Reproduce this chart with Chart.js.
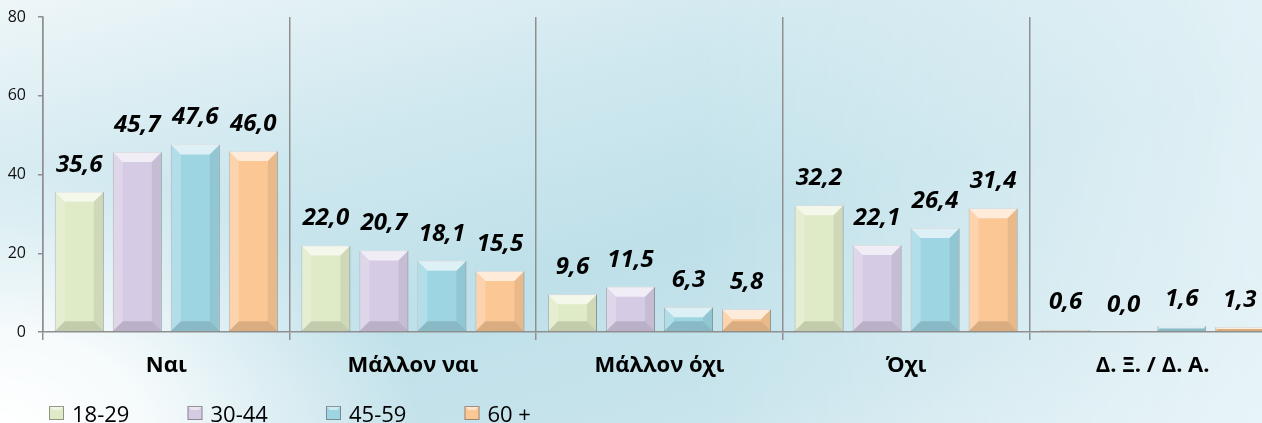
<!DOCTYPE html>
<html>
<head>
<meta charset="utf-8">
<script src="https://cdn.jsdelivr.net/npm/chart.js@4/dist/chart.umd.min.js"></script>
<style>
  html, body { margin: 0; padding: 0; overflow: hidden; }
  body {
    width: 1262px; height: 423px;
    background:
      radial-gradient(ellipse 420px 260px at 0% 100%, #ffffff 0%, rgba(255,255,255,0.85) 35%, rgba(255,255,255,0) 100%),
      linear-gradient(90deg, rgba(255,255,255,0) 55%, rgba(236,246,249,0.75) 100%),
      linear-gradient(165deg, #eef6f8 0%, #cfe8ef 30%, #bfe0e9 55%, #c8e4ec 80%, #dceef3 100%);
  }
  #wrap { position: absolute; left: 0; top: 0; width: 1276px; height: 423px; }
</style>
</head>
<body>
<div id="wrap"><canvas id="chart" width="1276" height="423"></canvas></div>
<script>
  // categories and age groups
  var categories = ['Ναι', 'Μάλλον ναι', 'Μάλλον όχι', 'Όχι', 'Δ. Ξ. / Δ. Α.'];
  var ageGroups = ['18-29', '30-44', '45-59', '60 +'];

  // percentages per age group
  var age1829 = [35.6, 22.0, 9.6, 32.2, 0.6];
  var age3044 = [45.7, 20.7, 11.5, 22.1, 0.0];
  var age4559 = [47.6, 18.1, 6.3, 26.4, 1.6];
  var age60 = [46.0, 15.5, 5.8, 31.4, 1.3];

  var yTicks = [0, 20, 40, 60, 80];

  var barColors = ['#dfeac6', '#d6cbe5', '#9dd5e3', '#fbc795'];
  var gridColor = '#8f8f8f';

  var seriesValues = [age1829, age3044, age4559, age60];

  // bevel look like the office charts
  var bevelPlugin = {
    id: 'bevel',
    afterDatasetDraw: function (chart, args) {
      var ctx = chart.ctx;
      args.meta.data.forEach(function (bar) {
        var w = bar.width, l = bar.x - w / 2, r = bar.x + w / 2;
        var t = Math.min(bar.y, bar.base), btm = Math.max(bar.y, bar.base);
        var b = Math.min(10, (btm - t) / 2, w / 2);
        if (b <= 0) return;
        ctx.save();
        function quad(pts, fill) {
          ctx.beginPath();
          ctx.moveTo(pts[0], pts[1]);
          for (var i = 2; i < pts.length; i += 2) ctx.lineTo(pts[i], pts[i + 1]);
          ctx.closePath();
          ctx.fillStyle = fill;
          ctx.fill();
        }
        quad([l, t, r, t, r - b, t + b, l + b, t + b], 'rgba(255,255,255,0.65)');
        quad([l, t, l + b, t + b, l + b, btm - b, l, btm], 'rgba(255,255,255,0.22)');
        quad([r, t, r - b, t + b, r - b, btm - b, r, btm], 'rgba(0,0,0,0.07)');
        quad([l, btm, l + b, btm - b, r - b, btm - b, r, btm], 'rgba(0,0,0,0.13)');
        ctx.restore();
      });
    }
  };

  var valueLabels = {
    id: 'valueLabels',
    afterDatasetsDraw: function (chart) {
      var ctx = chart.ctx;
      ctx.save();
      ctx.font = 'italic bold 24px "Open Sans"';
      ctx.fillStyle = '#000';
      ctx.textAlign = 'center';
      ctx.textBaseline = 'middle';
      chart.data.datasets.forEach(function (ds, i) {
        chart.getDatasetMeta(i).data.forEach(function (bar, j) {
          ctx.fillText(ds.data[j].toFixed(1).replace('.', ','), bar.x, bar.y - 27);
        });
      });
      ctx.restore();
    }
  };

  var legendRow = {
    id: 'legendRow',
    afterDraw: function (chart) {
      var ctx = chart.ctx;
      ctx.save();
      ctx.font = '22px "Open Sans"';
      ctx.textBaseline = 'middle';
      ctx.textAlign = 'left';
      chart.data.datasets.forEach(function (ds, i) {
        var x = 49 + i * 138.5, y = 406;
        ctx.fillStyle = ds.backgroundColor;
        ctx.fillRect(x, y, 15, 14);
        ctx.fillStyle = 'rgba(255,255,255,0.5)';
        ctx.beginPath();
        ctx.moveTo(x, y); ctx.lineTo(x + 15, y); ctx.lineTo(x + 11, y + 4); ctx.lineTo(x + 4, y + 4);
        ctx.closePath(); ctx.fill();
        ctx.strokeStyle = 'rgba(90,90,90,0.6)';
        ctx.lineWidth = 1;
        ctx.strokeRect(x + 0.5, y + 0.5, 14, 13);
        ctx.fillStyle = '#000';
        ctx.fillText(ds.label, x + 23, y + 10);
      });
      ctx.restore();
    }
  };

  new Chart(document.getElementById('chart'), {
    type: 'bar',
    data: {
      labels: categories,
      datasets: ageGroups.map(function (name, i) {
        return {
          label: name,
          data: seriesValues[i],
          backgroundColor: barColors[i],
          borderColor: 'rgba(110,110,110,0.55)',
          borderWidth: 1,
          categoryPercentage: 0.941,
          barPercentage: 0.845
        };
      })
    },
    options: {
      responsive: false,
      animation: false,
      layout: { padding: { top: 17, right: 0, bottom: 0, left: 0 } },
      plugins: {
        legend: { display: false },
        tooltip: { enabled: false }
      },
      scales: {
        x: {
          afterFit: function (scale) { scale.height = 91; },
          grid: { color: gridColor, lineWidth: 1.5, tickLength: 8, offset: true },
          border: { color: gridColor, width: 1.5 },
          ticks: {
            color: '#000',
            padding: 13,
            font: { family: 'Open Sans', size: 22, weight: 'bold' }
          }
        },
        y: {
          min: 0,
          max: 80,
          afterFit: function (scale) {
            scale.width = 43;
            scale.paddingTop = 0;
            scale.paddingBottom = 0;
          },
          afterBuildTicks: function (scale) {
            scale.ticks = yTicks.map(function (v) { return { value: v }; });
          },
          grid: { drawOnChartArea: false, color: gridColor, lineWidth: 1.5, tickLength: 5 },
          border: { color: gridColor, width: 1.5 },
          ticks: {
            color: '#111',
            padding: 12,
            font: { family: 'Open Sans', size: 16 }
          }
        }
      }
    },
    plugins: [bevelPlugin, valueLabels, legendRow]
  });
</script>
</body>
</html>
